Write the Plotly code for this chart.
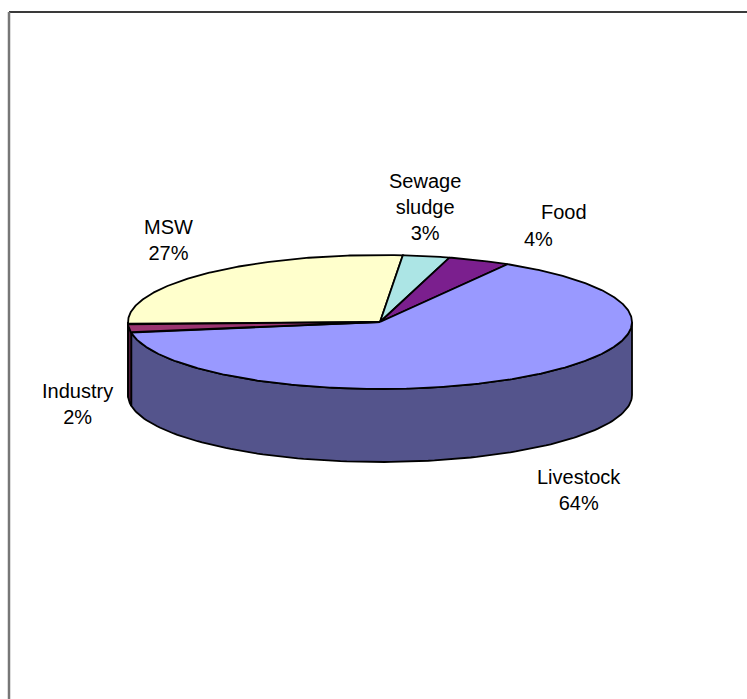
import numpy as np
import plotly.graph_objects as go

# ---- data ----
categories = ["MSW", "Sewage sludge", "Food", "Livestock", "Industry"]
values = [27, 3, 4, 64, 2]
label_names = ["MSW", "Sewage<br>sludge", "Food", "Livestock", "Industry"]
top_colors = ["#FFFFCC", "#ACE5E5", "#7B1F8E", "#9999FF", "#9A3470"]

# ---- geometry / style (layout constants) ----
W, H = 747, 699
cx, cy = 380.0, 322.0
a, b = 252.0, 67.0
depth = 73.0
start_angle = 182.0  # parametric angle where first slice starts, going clockwise
shade = 0.55

label_pos = {
    "MSW": (168, 240),
    "Sewage sludge": (425, 207),
    "Food": (564, 225),
    "Livestock": (579, 490),
    "Industry": (77, 404),
}
food_split = {"name": (564, 212), "pct": (538, 239)}


def darken(hex_color, f):
    h = hex_color.lstrip("#")
    r, g, bl = (int(h[i:i + 2], 16) for i in (0, 2, 4))
    return "#%02X%02X%02X" % (int(r * f), int(g * f), int(bl * f))


def pts(theta_deg, dy=0.0):
    t = np.radians(theta_deg)
    return cx + a * np.cos(t), cy - b * np.sin(t) + dy


total = float(sum(values))
bounds = []
cum = 0.0
for v in values:
    s = start_angle - 360.0 * cum / total
    e = start_angle - 360.0 * (cum + v) / total
    bounds.append((s, e))
    cum += v

fig = go.Figure()

# side walls (front half only)
front_ranges = [(-180.0, 0.0), (180.0, 360.0), (-540.0, -360.0)]
for (s, e), col in zip(bounds, top_colors):
    lo, hi = e, s
    for fr0, fr1 in front_ranges:
        o0, o1 = max(lo, fr0), min(hi, fr1)
        if o1 - o0 <= 1e-6:
            continue
        th = np.linspace(o1, o0, 120)
        xt, yt = pts(th)
        xb, yb = pts(th[::-1], depth)
        xs = np.concatenate([xt, xb, xt[:1]])
        ys = np.concatenate([yt, yb, yt[:1]])
        fig.add_trace(go.Scatter(
            x=xs, y=ys, mode="lines", fill="toself",
            fillcolor=darken(col, shade),
            line=dict(color="black", width=1.8),
            hoverinfo="skip", showlegend=False))

# tops
for (s, e), col in zip(bounds, top_colors):
    n = max(8, int(abs(s - e) * 2))
    th = np.linspace(s, e, n)
    xa, ya = pts(th)
    xs = np.concatenate([[cx], xa, [cx]])
    ys = np.concatenate([[cy], ya, [cy]])
    fig.add_trace(go.Scatter(
        x=xs, y=ys, mode="lines", fill="toself", fillcolor=col,
        line=dict(color="black", width=1.8),
        hoverinfo="skip", showlegend=False))

# labels
font = dict(family="Liberation Sans, Arial, sans-serif", size=20, color="black")
annotations = []
for cat, nm, v in zip(categories, label_names, values):
    pct = f"{round(100 * v / total):d}%"
    if cat == "Food":
        annotations.append(dict(x=food_split["name"][0], y=food_split["name"][1],
                                text=nm, showarrow=False, font=font,
                                xanchor="center", yanchor="middle"))
        annotations.append(dict(x=food_split["pct"][0], y=food_split["pct"][1],
                                text=pct, showarrow=False, font=font,
                                xanchor="center", yanchor="middle"))
    else:
        x, y = label_pos[cat]
        annotations.append(dict(x=x, y=y, text=f"{nm}<br>{pct}", showarrow=False,
                                font=font, xanchor="center", yanchor="middle"))

shapes = [
    dict(type="line", xref="x", yref="y", x0=9, x1=760, y0=12, y1=12,
         line=dict(color="#3A3A3A", width=2)),
    dict(type="line", xref="x", yref="y", x0=9, x1=9, y0=12, y1=720,
         line=dict(color="#777777", width=2.5)),
]

fig.update_layout(
    width=W, height=H,
    margin=dict(l=0, r=0, t=0, b=0),
    paper_bgcolor="white", plot_bgcolor="white",
    xaxis=dict(range=[0, W], visible=False, fixedrange=True),
    yaxis=dict(range=[H, 0], visible=False, fixedrange=True),
    annotations=annotations,
    shapes=shapes,
    showlegend=False,
)

fig.write_html("out.html")
